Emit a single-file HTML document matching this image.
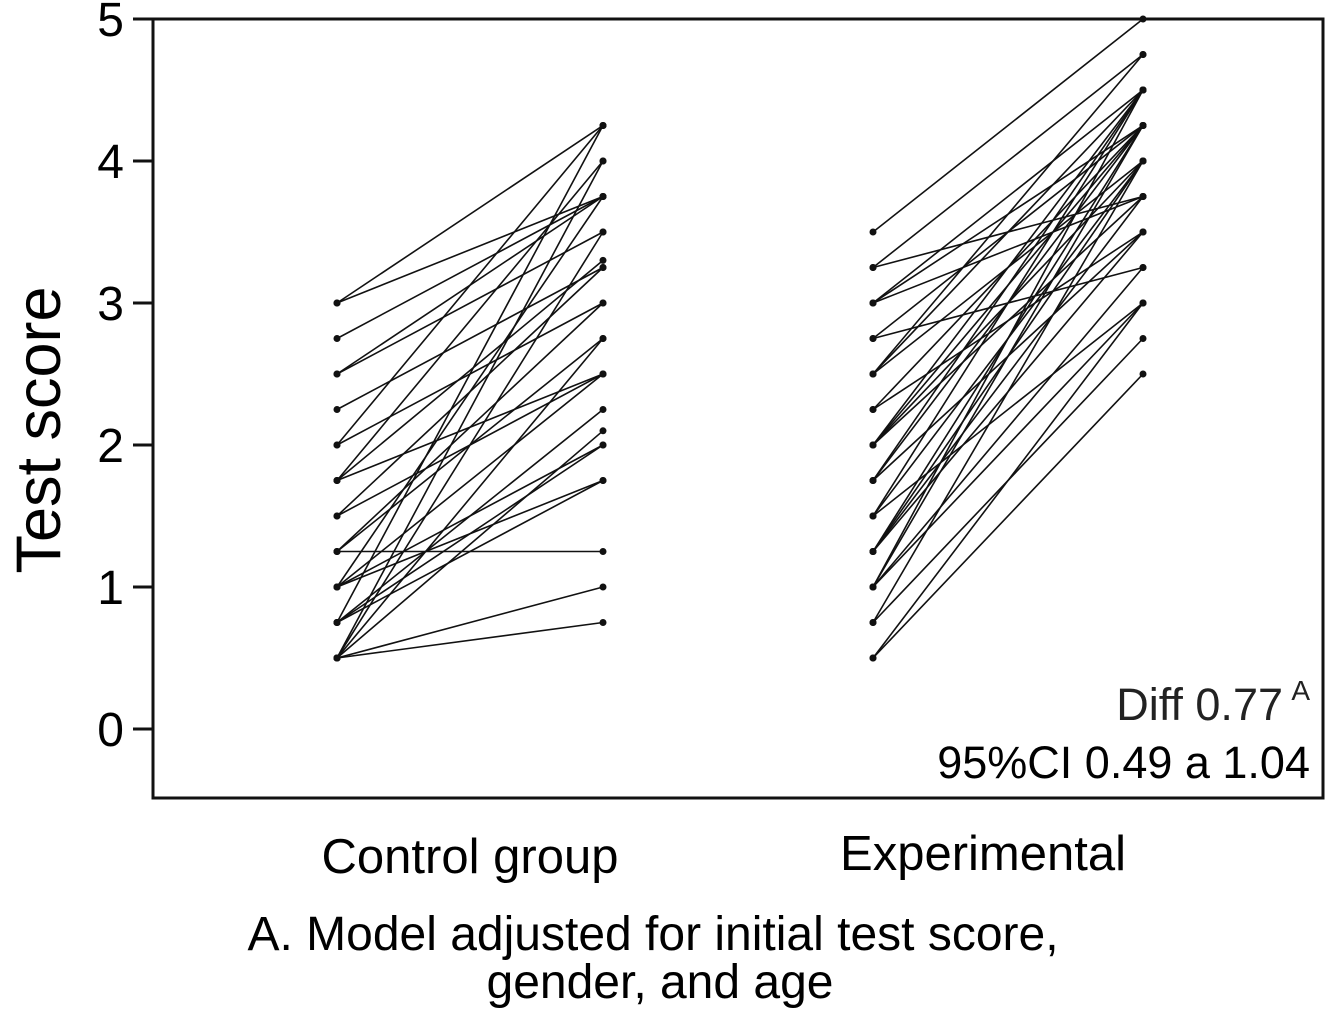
<!DOCTYPE html>
<html><head><meta charset="utf-8"><style>
body{margin:0;background:#fff;}
svg{display:block;font-family:"Liberation Sans",Arial,sans-serif;}
</style></head><body>
<svg id="chart" width="1333" height="1018">
<g id="axes"></g><g id="lines"></g><g id="dots"></g>
<rect x="153" y="19" width="1170" height="779" fill="none" stroke="#111" stroke-width="3"/>
<text x="0" y="0" transform="translate(60,430) rotate(-90)" text-anchor="middle" font-size="63">Test score</text>
<text x="470" y="873" text-anchor="middle" font-size="49">Control group</text>
<text x="983" y="870" text-anchor="middle" font-size="49">Experimental</text>
<text x="1283" y="720" text-anchor="end" font-size="45" fill="#222">Diff 0.77</text>
<text x="1310" y="700" text-anchor="end" font-size="28" fill="#222">A</text>
<text x="1310" y="778" text-anchor="end" font-size="45">95%CI 0.49 a 1.04</text>
<text x="653" y="950" text-anchor="middle" font-size="48">A. Model adjusted for initial test score,</text>
<text x="660" y="998" text-anchor="middle" font-size="48">gender, and age</text>
</svg>
<script>
const yTicks=[0,1,2,3,4,5];
const controlPre=[3,3,2.75,2.5,2.25,2,1.75,1.75,1.5,1.25,1,1,1,0.75,0.75,0.75,0.5,0.5,0.5,0.5,0.5,0.5,1.75,2,1.25,1,0.75,1.5,2.5,1.25];
const controlPost=[4.25,3.75,3.75,3.5,3.25,3,2.5,4,3.25,1.25,2,3.75,2.5,4.25,2.25,1.75,4,3.5,2.1,1,0.75,2.75,3.3,4.25,3,1.75,2,2.5,3.75,2.75];
const expPre=[3.5,3.25,3,3,3,2.75,2.5,2.5,2.25,2,2,2,1.75,1.75,1.5,1.5,1.25,1.25,1.25,1,1,1,1,0.75,0.75,0.5,0.5,2.75,3.25,2.25,1.5,2.5,1.75,1.25,2];
const expPost=[5,4.75,4.25,4.5,3.75,4.25,4,4.5,4.25,4.5,4,3.75,4.25,3.5,4.5,4,4.25,3.75,3.5,4.5,4.25,3,3.25,4,2.75,2.5,3,3.25,3.75,3.5,3,4.75,4.5,4,4.25];
const NS="http://www.w3.org/2000/svg";
const y=v=>729-v*142;
const ax=document.getElementById('axes'),lg=document.getElementById('lines'),dg=document.getElementById('dots');
yTicks.forEach(t=>{
 const l=document.createElementNS(NS,'line');
 l.setAttribute('x1',133);l.setAttribute('x2',153);l.setAttribute('y1',y(t));l.setAttribute('y2',y(t));
 l.setAttribute('stroke','#111');l.setAttribute('stroke-width',3);
 
 
 ax.appendChild(l);
 const tx=document.createElementNS(NS,'text');
 tx.setAttribute('x',124);tx.setAttribute('y',y(t)+17);tx.setAttribute('text-anchor','end');tx.setAttribute('font-size',48);
 tx.textContent=t;
 
 
 ax.appendChild(tx);
});
function draw(pre,post,x1,x2,name){
 pre.forEach((a,i)=>{
  const b=post[i];
  const l=document.createElementNS(NS,'line');
  l.setAttribute('x1',x1);l.setAttribute('x2',x2);l.setAttribute('y1',y(a));l.setAttribute('y2',y(b));
  l.setAttribute('stroke','#111');l.setAttribute('stroke-width',1.6);
  
  
  lg.appendChild(l);
  [[x1,a],[x2,b]].forEach(p=>{
   const c=document.createElementNS(NS,'circle');
   c.setAttribute('cx',p[0]);c.setAttribute('cy',y(p[1]));c.setAttribute('r',3.5);c.setAttribute('fill','#111');
   
   
   dg.appendChild(c);
  });
 });
}
draw(controlPre,controlPost,337,603,'control');
draw(expPre,expPost,873,1143,'experimental');
</script>
</body></html>
